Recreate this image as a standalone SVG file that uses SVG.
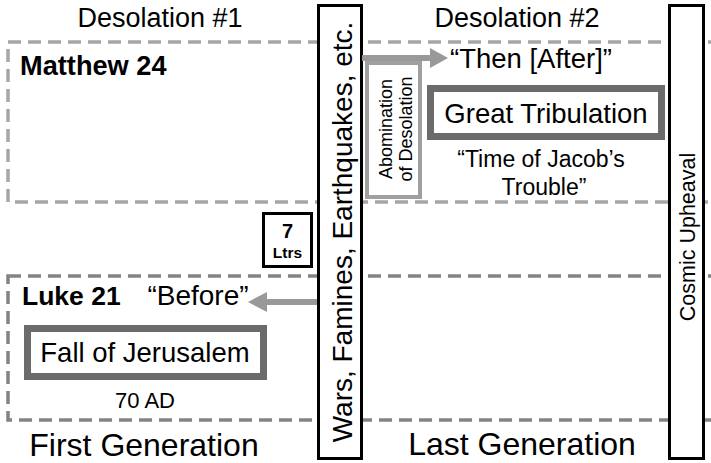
<svg xmlns="http://www.w3.org/2000/svg" width="711" height="463" viewBox="0 0 711 463">
<style>
text{font-family:"Liberation Sans",Arial,sans-serif;fill:#000}
.dash1{fill:none;stroke:#a6a6a6;stroke-width:3.5;stroke-dasharray:13 7}
.dash2{fill:none;stroke:#838383;stroke-width:3.5;stroke-dasharray:13 7}
.blk{fill:#fff;stroke:#000;stroke-width:3}
.evt{fill:#fff;stroke:#6b6b6b;stroke-width:7}
.abom{fill:#fff;stroke:#a0a0a0;stroke-width:4}
.arr{stroke:#999;stroke-width:6;fill:none}
.head{fill:#999}
.b{font-weight:bold}
</style>
<rect width="711" height="463" fill="#fff"/>
<g id="matthew-region">
<rect class="dash1" x="8" y="42" width="720" height="160"/>
<text class="b" x="20" y="75" font-size="27.2">Matthew 24</text>
</g>
<g id="luke-region">
<rect class="dash2" x="8" y="276" width="720" height="144"/>
<text class="b" x="22" y="305" font-size="26.5">Luke 21</text>
</g>
<g id="desolation1"><text x="160" y="27" font-size="27" text-anchor="middle">Desolation #1</text></g>
<g id="desolation2"><text x="517" y="27" font-size="27" text-anchor="middle">Desolation #2</text></g>
<g id="first-generation"><text x="144" y="456" font-size="32" text-anchor="middle">First Generation</text></g>
<g id="last-generation"><text x="522" y="455" font-size="32" text-anchor="middle">Last Generation</text></g>
<g id="wars">
<rect class="blk" x="318.5" y="5.5" width="43" height="453"/>
<text transform="translate(352,232) rotate(-90)" font-size="28" text-anchor="middle">Wars, Famines, Earthquakes, etc.</text>
</g>
<g id="cosmic">
<rect class="blk" x="669.5" y="5.5" width="34" height="453"/>
<text transform="translate(695,237) rotate(-90)" font-size="21.5" text-anchor="middle">Cosmic Upheaval</text>
</g>
<g id="seven-letters">
<rect class="blk" x="263.5" y="213.5" width="48" height="53"/>
<text class="b" x="287.5" y="238" font-size="20" text-anchor="middle">7</text>
<text class="b" x="287.5" y="258" font-size="15.5" text-anchor="middle">Ltrs</text>
</g>
<g id="abomination">
<rect class="abom" x="367" y="63" width="53" height="134"/>
<text transform="translate(392,129) rotate(-90)" font-size="18" text-anchor="middle">Abomination<tspan x="0" dy="20">of Desolation</tspan></text>
</g>
<g id="great-tribulation">
<rect class="evt" x="430.5" y="88.5" width="231" height="48"/>
<text x="546" y="123" font-size="27.5" text-anchor="middle">Great Tribulation</text>
</g>
<g id="jacob">
<text x="541" y="167" font-size="23" text-anchor="middle">“Time of Jacob’s</text>
<text x="544" y="195" font-size="23" text-anchor="middle">Trouble”</text>
</g>
<g id="then-after"><text x="450" y="68" font-size="27.5">“Then [After]”</text></g>
<g id="fall-of-jerusalem">
<rect class="evt" x="27.5" y="328.5" width="236" height="48"/>
<text x="145" y="362" font-size="27.5" text-anchor="middle">Fall of Jerusalem</text>
<text x="145" y="408" font-size="22" text-anchor="middle">70 AD</text>
</g>
<g id="before"><text x="198" y="305" font-size="28" text-anchor="middle">“Before”</text></g>
<g id="connectors">
<line class="arr" x1="362" y1="58" x2="432" y2="58"/>
<polygon class="head" points="448,58 430,48 430,68"/>
<line class="arr" x1="317" y1="302" x2="265" y2="302"/>
<polygon class="head" points="248,302 267,292 267,312"/>
</g>
</svg>
